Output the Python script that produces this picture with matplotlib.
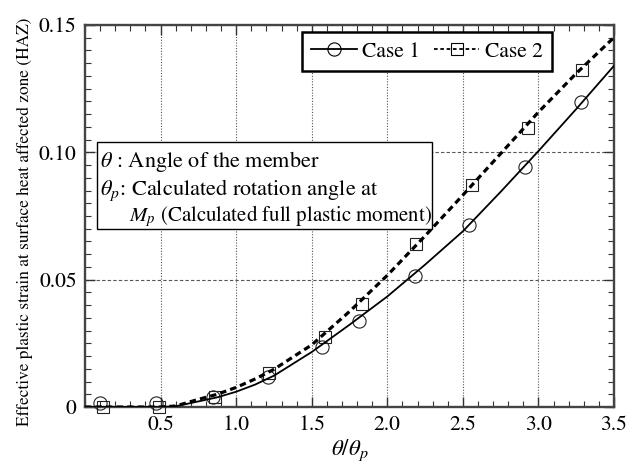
import matplotlib
matplotlib.use("Agg")
import matplotlib.pyplot as plt
from matplotlib.lines import Line2D
from matplotlib.patches import Rectangle
from matplotlib.ticker import MultipleLocator

plt.rcParams["font.family"] = "serif"
plt.rcParams["font.serif"] = ["STIXGeneral", "Liberation Serif", "DejaVu Serif"]
plt.rcParams["mathtext.fontset"] = "stix"

# curves (theta / theta_p vs. effective plastic strain)
curve_x = [0, 0.5, 0.6, 0.75, 0.875, 1.0, 1.125, 1.25, 1.5, 1.75, 2.0, 2.25, 2.5,
           2.75, 3.0, 3.25, 3.5]
case1_curve = [0, 0, 0.0003, 0.0022, 0.0038, 0.0060, 0.0088, 0.0123, 0.0216, 0.0323,
               0.0434, 0.0559, 0.0690, 0.0845, 0.1005, 0.1170, 0.1340]
case2_curve = [0, 0, 0.0004, 0.0030, 0.0050, 0.0077, 0.0110, 0.0148, 0.0244, 0.0375,
               0.0517, 0.0672, 0.0832, 0.0995, 0.1158, 0.1310, 0.1451]

# marker points
case1_x = [0.10, 0.47, 0.85, 1.21, 1.57, 1.81, 2.18, 2.54, 2.91, 3.28]
case1_y = [0.0015, 0.0015, 0.0038, 0.0119, 0.0237, 0.0339, 0.0513, 0.0714, 0.0944, 0.1198]
case2_x = [0.12, 0.49, 0.86, 1.22, 1.59, 1.83, 2.19, 2.56, 2.93, 3.29]
case2_y = [0.0, 0.0, 0.0039, 0.0134, 0.0274, 0.0406, 0.0642, 0.0871, 0.1096, 0.1323]

xticks = [0.5, 1.0, 1.5, 2.0, 2.5, 3.0, 3.5]
xtick_labels = ["0.5", "1.0", "1.5", "2.0", "2.5", "3.0", "3.5"]
yticks = [0, 0.05, 0.10, 0.15]
ytick_labels = ["0", "0.05", "0.10", "0.15"]

fig = plt.figure(figsize=(6.28, 4.65), dpi=100)
ax = fig.add_axes([0.1354, 0.1247, 0.8423, 0.8215])

ax.plot(curve_x, case1_curve, color="black", lw=1.3, zorder=4)
ax.plot(curve_x, case2_curve, color="black", lw=2.3, ls=(0, (2.0, 1.3)), zorder=4)
ax.plot(case1_x, case1_y, ls="none", marker="o", ms=9.5, mfc="none", mec="#222222",
        mew=0.8, clip_on=False, zorder=3)
ax.plot(case2_x, case2_y, ls="none", marker="s", ms=9, mfc="none", mec="#222222",
        mew=0.8, clip_on=False, zorder=3)

ax.set_xlim(0, 3.5)
ax.set_ylim(0, 0.15)
ax.set_xticks(xticks)
ax.set_xticklabels(xtick_labels)
ax.set_yticks(yticks)
ax.set_yticklabels(ytick_labels)
ax.xaxis.set_minor_locator(MultipleLocator(0.1))
ax.yaxis.set_minor_locator(MultipleLocator(0.005))
ax.tick_params(which="both", direction="in", top=True, right=True, labelsize=15.5,
               color="#333333")
ax.tick_params(which="major", length=7, width=1.0, pad=6)
ax.tick_params(which="minor", length=4, width=0.8)

for sp in ax.spines.values():
    sp.set_linewidth(1.7)
    sp.set_color("#444444")

ax.xaxis.grid(True, ls=(0, (1, 1.5)), color="#555555", lw=0.8)
ax.yaxis.grid(True, ls=(0, (3, 2)), color="#555555", lw=0.8)
ax.set_axisbelow(True)

ax.set_xlabel(r"$\theta/\theta_p$", fontsize=16.5, labelpad=2)
ax.set_ylabel("Effective plastic strain at surface heat affected zone (HAZ)",
              fontsize=12.4)
ax.yaxis.set_label_coords(-0.098, 0.4856)

handles = [
    Line2D([], [], color="black", lw=1.3, marker="o", ms=9.5, mfc="none", mew=0.8),
    Line2D([], [], color="black", lw=1.3, ls=(0, (2, 1.5)), marker="s", ms=9,
           mfc="none", mew=0.8),
]
leg = ax.legend(handles, ["Case 1", "Case 2"], ncol=2, loc="upper right",
                bbox_to_anchor=(0.883, 0.982), borderaxespad=0, fontsize=15.5,
                fancybox=False, framealpha=1, handlelength=2.1, handletextpad=0.25,
                columnspacing=0.65, borderpad=0.45)
leg.get_frame().set_edgecolor("black")
leg.get_frame().set_linewidth(1.8)
leg.set_zorder(10)

box = Rectangle((0.0227, 0.466), 0.633, 0.228, transform=ax.transAxes,
                facecolor="white", edgecolor="black", lw=1.0, zorder=8)
ax.add_patch(box)
ax.text(0.028, 0.642, r"$\theta$ : Angle of the member", transform=ax.transAxes,
        fontsize=16, va="center", zorder=9)
ax.text(0.028, 0.568, r"$\theta_p$: Calculated rotation angle at", transform=ax.transAxes,
        fontsize=16, va="center", zorder=9)
ax.text(0.084, 0.500, r"$M_p$ (Calculated full plastic moment)", transform=ax.transAxes,
        fontsize=15, va="center", zorder=9)

fig.savefig("out.png", dpi=100)
